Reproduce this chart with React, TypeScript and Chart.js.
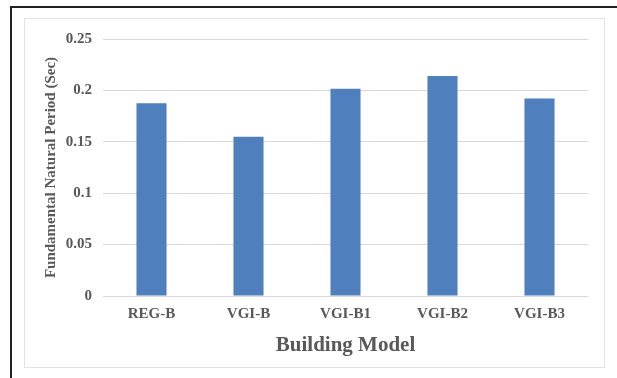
import React, { useEffect, useRef } from "react";
import { Chart, registerables } from "chart.js";

Chart.register(...registerables);

const categories = ["REG-B", "VGI-B", "VGI-B1", "VGI-B2", "VGI-B3"];
const periods = [0.1875, 0.155, 0.2015, 0.214, 0.192];
const yTicks = [0, 0.05, 0.1, 0.15, 0.2, 0.25];

const FONT = "'Liberation Serif', 'Times New Roman', serif";
const TEXT = "#595959";

export default function App() {
  const ref = useRef<HTMLCanvasElement | null>(null);
  useEffect(() => {
    if (!ref.current) return;
    const chart = new Chart(ref.current, {
      type: "bar",
      data: {
        labels: categories,
        datasets: [
          {
            data: periods,
            backgroundColor: "#4f7fbc",
            categoryPercentage: 1,
            barPercentage: 0.31,
          },
        ],
      },
      options: {
        responsive: false,
        animation: false,
        layout: { padding: { top: 17, right: 16, left: 0, bottom: 0 } },
        plugins: { legend: { display: false }, tooltip: { enabled: false } },
        scales: {
          x: {
            grid: { display: false, drawTicks: false },
            border: { display: false },
            ticks: {
              color: TEXT,
              font: { family: FONT, size: 15, weight: "bold" },
              padding: 9,
              maxRotation: 0,
            },
            title: {
              display: true,
              text: "Building Model",
              color: TEXT,
              font: { family: FONT, size: 21, weight: "bold" },
              padding: { top: 10, bottom: 9 },
            },
            afterFit: (s: any) => {
              s.height = 71;
            },
          },
          y: {
            min: 0,
            max: 0.25,
            afterBuildTicks: (s: any) => {
              s.ticks = yTicks.map((v) => ({ value: v }));
            },
            grid: { color: "#d9d9d9", drawTicks: false, lineWidth: 1 },
            border: { display: false },
            ticks: {
              color: TEXT,
              font: { family: FONT, size: 15, weight: "bold" },
              padding: 11,
              callback: (v: any) => String(v),
            },
            title: {
              display: true,
              text: "Fundamental Natural Period (Sec)",
              color: TEXT,
              font: { family: FONT, size: 15, weight: "bold" },
              padding: { top: 17, bottom: 4 },
            },
            afterFit: (s: any) => {
              s.width = 78;
            },
          },
        },
      },
    });
    return () => chart.destroy();
  }, []);

  return (
    <div style={{ position: "fixed", left: 0, top: 0, width: 617, height: 378, background: "#fff" }}>
      <div style={{ position: "absolute", left: 10, top: 6, right: 0, height: 2, background: "#222" }} />
      <div style={{ position: "absolute", left: 10, top: 6, bottom: 0, width: 2, background: "#222" }} />
      <div
        style={{
          position: "absolute",
          left: 24,
          top: 18,
          width: 579,
          height: 348,
          border: "1px solid #e3e3e3",
        }}
      />
      <canvas
        ref={ref}
        width={579}
        height={348}
        style={{ position: "absolute", left: 25, top: 19, width: 579, height: 348 }}
      />
    </div>
  );
}
